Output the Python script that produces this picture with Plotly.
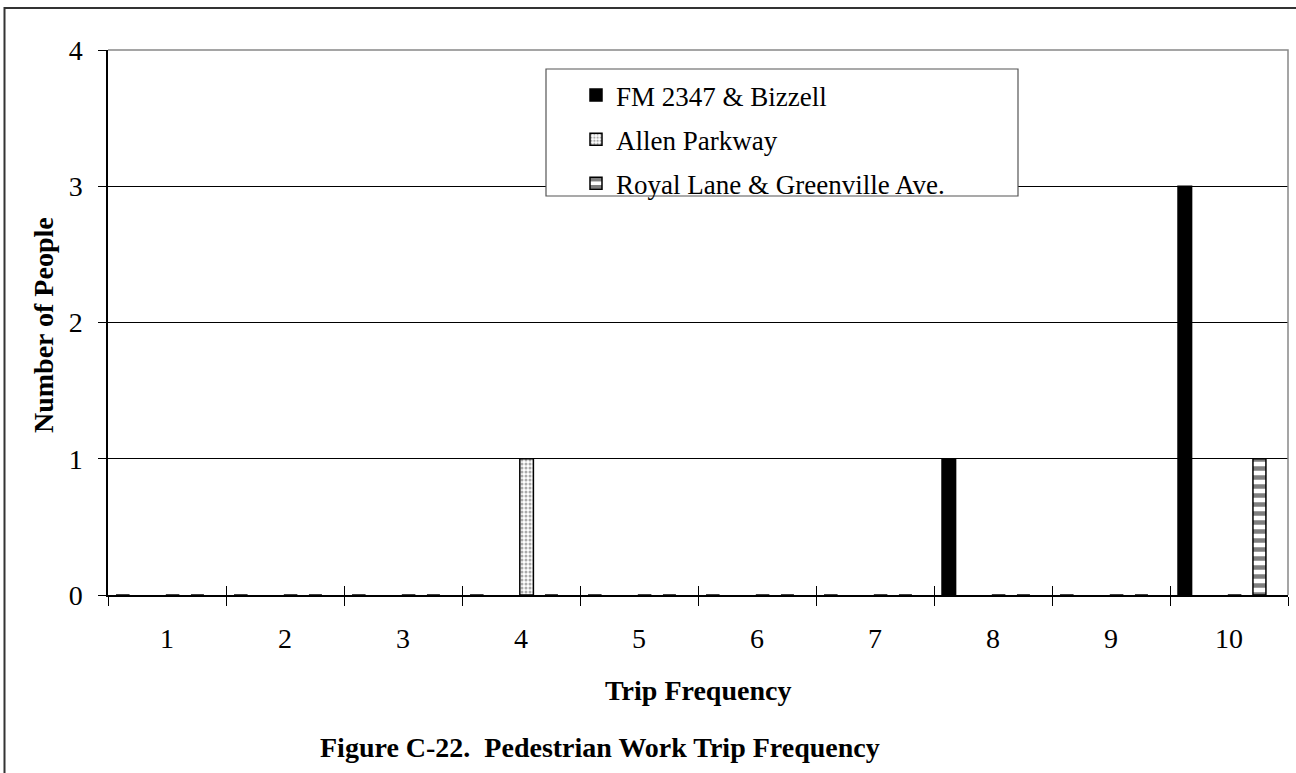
import plotly.graph_objects as go

# data
trip_freq = ["1", "2", "3", "4", "5", "6", "7", "8", "9", "10"]
fm_2347 = [0, 0, 0, 0, 0, 0, 0, 1, 0, 3]
allen_pkwy = [0, 0, 0, 1, 0, 0, 0, 0, 0, 0]
royal_lane = [0, 0, 0, 0, 0, 0, 0, 0, 0, 1]
y_ticks = [0, 1, 2, 3, 4]

FONT = "Liberation Serif, Times New Roman, serif"
FS = 28

# plot area in pixels (from the reference)
W, H = 1296, 773
L, R, T, B = 108, 1288, 50, 595


def px_x(x):
    return (x - L) / (R - L)


def px_y(y):
    return (B - y) / (B - T)


fig = go.Figure()

fig.add_trace(go.Bar(
    x=trip_freq, y=fm_2347, name="FM 2347 & Bizzell",
    width=0.115, offset=-0.432,
    marker=dict(color="black", line=dict(color="black", width=1.5)),
    legendgroup="a",
))
fig.add_trace(go.Bar(
    x=trip_freq, y=allen_pkwy, name="Allen Parkway",
    width=0.115, offset=-0.01,
    marker=dict(color="white", line=dict(color="black", width=1.5),
                pattern=dict(shape=".", fgcolor="#555555", bgcolor="white", size=4, solidity=0.45)),
    legendgroup="b",
))
fig.add_trace(go.Bar(
    x=trip_freq, y=royal_lane, name="Royal Lane & Greenville Ave.",
    width=0.11, offset=0.203,
    marker=dict(color="white", line=dict(color="black", width=1.5),
                pattern=dict(shape="-", fgcolor="black", bgcolor="white", size=9, solidity=0.5)),
    legendgroup="c",
))
# invisible helper on the overlaid axis so the inner half of the cross ticks is drawn
fig.add_trace(go.Scatter(x=trip_freq, y=[0] * len(trip_freq), mode="none",
                         showlegend=False, hoverinfo="skip", xaxis="x2"))

fig.update_layout(
    width=W, height=H,
    margin=dict(l=L, r=W - R, t=T, b=H - B),
    paper_bgcolor="white", plot_bgcolor="white",
    font=dict(family=FONT, color="black", size=FS),
    barmode="overlay",
    showlegend=True,
    legend=dict(
        x=px_x(556), y=px_y(71), xanchor="left", yanchor="top",
        bgcolor="rgba(0,0,0,0)", borderwidth=0,
        font=dict(family=FONT, size=27, color="black"),
        traceorder="grouped", tracegroupgap=6,
        indentation=20,
    ),
    xaxis=dict(
        type="category", range=[-0.5, 9.5],
        tickson="boundaries", ticks="outside", ticklen=9, tickwidth=1, tickcolor="black",
        showline=True, linecolor="black", linewidth=1.5,
        showgrid=False, ticklabelstandoff=18,
        tickfont=dict(family=FONT, size=FS),
    ),
    xaxis2=dict(
        type="category", overlaying="x", matches="x", anchor="y", side="bottom",
        tickson="boundaries", ticks="inside", ticklen=9, tickwidth=1, tickcolor="black",
        showticklabels=False, showgrid=False, showline=False,
    ),
    yaxis=dict(
        range=[0, 4], tickvals=y_ticks, ticks="outside", ticklen=8, tickcolor="black",
        showline=True, linecolor="black", linewidth=1.5,
        showgrid=True, gridcolor="black", gridwidth=1, zeroline=False,
        ticklabelstandoff=10,
        tickfont=dict(family=FONT, size=FS),
    ),
    shapes=[
        # outer frame (left + top edges visible)
        dict(type="path", xref="paper", yref="paper",
             path=f"M {px_x(4.5)},{px_y(800)} L {px_x(4.5)},{px_y(8)} L {px_x(1310)},{px_y(8)}",
             line=dict(color="#333333", width=2)),
        # plot area border top / right
        dict(type="path", xref="paper", yref="paper", layer="above",
             path="M 0,1 L 1,1 L 1,0",
             line=dict(color="#888888", width=1.5)),
        # legend box
        dict(type="rect", xref="paper", yref="paper", layer="above",
             x0=px_x(546), x1=px_x(1018), y0=px_y(196), y1=px_y(69),
             fillcolor="white", line=dict(color="#555555", width=1.2)),
    ],
    annotations=[
        dict(text="<b>Number of People</b>", xref="paper", yref="paper",
             x=px_x(43), y=px_y(325), xanchor="center", yanchor="middle",
             textangle=-90, showarrow=False, font=dict(family=FONT, size=FS)),
        dict(text="<b>Trip Frequency</b>", xref="paper", yref="paper",
             x=px_x(698), y=px_y(690), xanchor="center", yanchor="middle",
             showarrow=False, font=dict(family=FONT, size=FS)),
        dict(text="<b>Figure C-22.  Pedestrian Work Trip Frequency</b>", xref="paper", yref="paper",
             x=px_x(318), y=px_y(747), xanchor="left", yanchor="middle",
             showarrow=False, font=dict(family=FONT, size=FS)),
    ],
)

fig.write_html("out.html", config={"displayModeBar": False},
               post_script="document.body.style.margin='0';")
